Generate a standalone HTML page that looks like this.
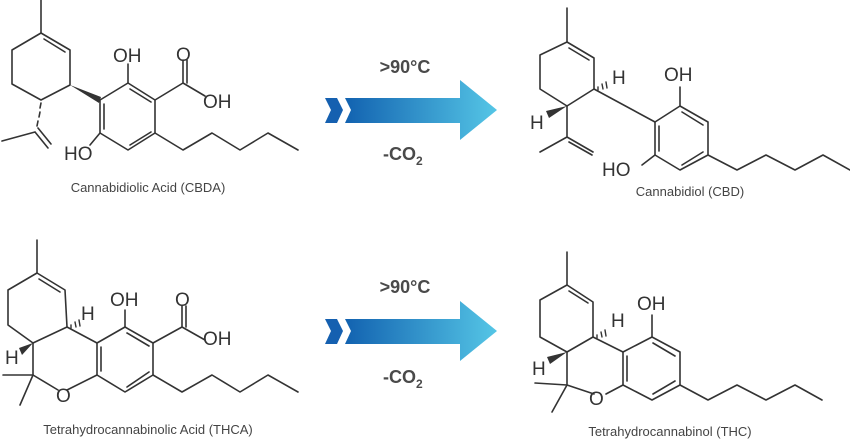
<!DOCTYPE html>
<html><head><meta charset="utf-8"><style>
html,body{margin:0;padding:0;background:#fff;}
svg{display:block;}
text{font-family:"Liberation Sans",sans-serif;fill:#333;}
.l{stroke:#333;stroke-width:1.6;fill:none;stroke-linecap:round;stroke-linejoin:round;}
.a{font-size:19px;}
.c{font-size:13px;fill:#444;}
.t{font-size:18px;font-weight:bold;fill:#4a4a4a;}
</style></head><body>
<svg width="850" height="439" viewBox="0 0 850 439" xmlns="http://www.w3.org/2000/svg">
<defs>
<linearGradient id="g" x1="0" x2="1" y1="0" y2="0">
<stop offset="0" stop-color="#1262b0"/><stop offset="1" stop-color="#55c6e6"/>
</linearGradient>
</defs>

<!-- CBDA -->
<g class="l">
<path d="M41,0 L41,33"/>
<path d="M41,33 L70,50 L70,85 L41,100 L12,84 L12,50 Z"/>
<path d="M44,39 L65,52"/>
<path d="M100,100 L128,83 L155,100 L155,133 L128,150 L100,133 Z"/>
<path d="M104,104 L104,129 M130,89 L151,102 M130,145 L151,132"/>
<path d="M128,83 L128,64"/>
<path d="M100,133 L90,145"/>
<path d="M155,100 L183,83 L183,60 M187,83 L187,60 M183,83 L205,96"/>
<path d="M155,133 L183,150 L212,133 L240,150 L268,133 L298,150"/>
<path d="M35,132 L2,141 M35,132 L48,148 M38,128 L51,144"/>
<path d="M41,103 L40,108 M40,112 L39,117 M38,121 L37,126" />
</g>
<polygon points="70,85 101,97 99,103" fill="#333"/>
<text class="a" x="113" y="62">OH</text>
<text class="a" x="64" y="160">HO</text>
<text class="a" x="176" y="61">O</text>
<text class="a" x="203" y="108">OH</text>
<text class="c" x="148" y="192" text-anchor="middle">Cannabidiolic Acid (CBDA)</text>

<!-- CBD -->
<g class="l">
<path d="M567,8 L567,42"/>
<path d="M567,42 L594,58 L594,89 L567,106 L540,89 L540,55 Z"/>
<path d="M569,48 L589,60"/>
<path d="M567,106 L567,137 L540,152 M567,137 L593,152 M569,142 L592,155"/>
<path d="M594,89 L655,122"/>
<path d="M655,122 L680,106 L708,122 L708,155 L680,170 L655,155 Z"/>
<path d="M659,126 L659,151 M682,112 L703,125 M682,165 L703,152"/>
<path d="M680,106 L680,87"/>
<path d="M655,155 L642,165"/>
<path d="M708,155 L737,170 L766,155 L795,170 L823,155 L850,170"/>
<path d="M598,87 L598,90 M602,84 L603,89 M606,82 L607,88" stroke-width="1.4"/>
</g>
<polygon points="567,106 546,111 549,118" fill="#333"/>
<text class="a" x="612" y="84">H</text>
<text class="a" x="530" y="129">H</text>
<text class="a" x="664" y="81">OH</text>
<text class="a" x="602" y="176">HO</text>
<text class="c" x="690" y="196" text-anchor="middle">Cannabidiol (CBD)</text>

<!-- THCA -->
<g class="l">
<path d="M37,240 L37,273"/>
<path d="M37,273 L65,290 L67,327 L33,343 L8,325 L8,290 Z"/>
<path d="M39,279 L60,292"/>
<path d="M67,327 L97,343 M97,375 L67,390 M58,390 L33,375 L33,343"/>
<path d="M33,375 L3,375 M33,375 L20,405"/>
<path d="M97,343 L125,327 L153,343 L153,375 L125,392 L97,375 Z"/>
<path d="M101,347 L101,371 M127,333 L149,346 M127,387 L149,372"/>
<path d="M125,327 L125,310"/>
<path d="M153,343 L182,327 L182,306 M186,327 L186,306 M182,327 L205,340"/>
<path d="M153,375 L182,392 L212,375 L240,392 L268,375 L298,392"/>
<path d="M71,325 L71,328 M75,322 L76,327 M79,320 L80,326" stroke-width="1.4"/>
</g>
<polygon points="33,343 19,348 22,355" fill="#333"/>
<text class="a" x="110" y="306">OH</text>
<text class="a" x="175" y="306">O</text>
<text class="a" x="203" y="345">OH</text>
<text class="a" x="81" y="320">H</text>
<text class="a" x="5" y="364">H</text>
<text class="a" x="56" y="402">O</text>
<text class="c" x="148" y="434" text-anchor="middle">Tetrahydrocannabinolic Acid (THCA)</text>

<!-- THC -->
<g class="l">
<path d="M567,252 L567,285"/>
<path d="M567,285 L593,302 L593,337 L567,352 L540,337 L540,300 Z"/>
<path d="M569,291 L588,303"/>
<path d="M593,337 L623,352 M623,385 L606,394 M594,394 L567,385 L567,352"/>
<path d="M567,385 L535,383 M567,385 L552,412"/>
<path d="M623,352 L652,337 L680,352 L680,385 L652,400 L623,385 Z"/>
<path d="M627,356 L627,381 M653,343 L675,356 M653,394 L675,381"/>
<path d="M652,337 L652,315"/>
<path d="M680,385 L708,400 L737,385 L766,400 L795,385 L822,400"/>
<path d="M597,335 L597,338 M601,332 L602,337 M605,330 L606,336" stroke-width="1.4"/>
</g>
<polygon points="567,352 547,357 550,364" fill="#333"/>
<text class="a" x="637" y="310">OH</text>
<text class="a" x="611" y="327">H</text>
<text class="a" x="532" y="375">H</text>
<text class="a" x="589" y="405">O</text>
<text class="c" x="670" y="436" text-anchor="middle">Tetrahydrocannabinol (THC)</text>

<!-- Arrows -->
<g>
<polygon points="325,98 337,98 343,110 337,123 325,123 331,110" fill="#1560b0"/>
<polygon points="345,98 460,98 460,80 497,110 460,140 460,123 345,123 351,110" fill="url(#g)"/>
<text class="t" x="405" y="73" text-anchor="middle">&gt;90°C</text>
<text class="t" x="383" y="160">-CO<tspan font-size="12" dy="5">2</tspan></text>
</g>
<g transform="translate(0,221)">
<polygon points="325,98 337,98 343,110 337,123 325,123 331,110" fill="#1560b0"/>
<polygon points="345,98 460,98 460,80 497,110 460,140 460,123 345,123 351,110" fill="url(#g)"/>
<text class="t" x="405" y="72" text-anchor="middle">&gt;90°C</text>
<text class="t" x="383" y="162">-CO<tspan font-size="12" dy="5">2</tspan></text>
</g>
</svg>
</body></html>
